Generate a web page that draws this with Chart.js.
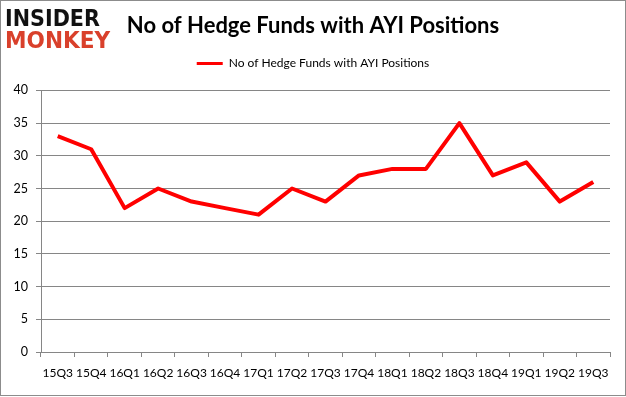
<!DOCTYPE html>
<html>
<head>
<meta charset="utf-8">
<script src="https://cdn.jsdelivr.net/npm/chart.js@4/dist/chart.umd.min.js"></script>
<style>
  html, body { margin: 0; padding: 0; background: #fff; }
  #wrap { position: relative; width: 626px; height: 397px; }
  #frame { position: absolute; left: 0; top: 0; width: 626px; height: 396px; box-sizing: border-box; border: 1px solid #8c8c8c; pointer-events: none; }
  .logo { position: absolute; left: 5px; font-family: "DejaVu Sans", sans-serif; font-weight: bold; font-size: 23px; line-height: 23px; transform-origin: left top; white-space: nowrap; letter-spacing: 0; }
  #logo1 { top: 7px; color: #111; transform: scaleX(0.9); }
  #logo2 { top: 29px; color: #d9402b; transform: scaleX(0.94); }
  canvas { position: absolute; left: 0; top: 0; }
</style>
</head>
<body>
<div id="wrap">
  <canvas id="chart" width="626" height="397"></canvas>
  <div class="logo" id="logo1">INSIDER</div>
  <div class="logo" id="logo2">MONKEY</div>
  <div id="frame"></div>
</div>
<script>
// 四半期ラベル
const quarters = ['15Q3', '15Q4', '16Q1', '16Q2', '16Q3', '16Q4', '17Q1', '17Q2', '17Q3',
    '17Q4', '18Q1', '18Q2', '18Q3', '18Q4', '19Q1', '19Q2', '19Q3'];
// ヘッジファンド数
const fundCounts = [33, 31, 22, 25, 23, 22, 21, 25, 23, 27, 28, 28, 35, 27, 29, 23, 26];
const yTicks = [0, 5, 10, 15, 20, 25, 30, 35, 40];
const seriesName = 'No of Hedge Funds with AYI Positions';

const gridColor = '#868686';
const font = 'Lato, "Open Sans", sans-serif';

// 凡例の下に余白を足し、タイトルと凡例をキャンバス全幅で中央揃えにする
const headerLayout = {
    id: 'headerLayout',
    beforeInit(chart) {
        const fit = chart.legend.fit;
        chart.legend.fit = function () {
            fit.bind(chart.legend)();
            this.height = 42;
        };
    },
    beforeDraw(chart) {
        [chart.titleBlock, chart.legend].forEach(box => {
            if (box) {
                box.left = 0;
                box.right = chart.width;
            }
        });
    }
};

const ctx = document.getElementById('chart').getContext('2d');
new Chart(ctx, {
    type: 'line',
    data: {
        labels: quarters,
        datasets: [{
            label: seriesName,
            data: fundCounts,
            borderColor: '#ff0000',
            backgroundColor: '#ff0000',
            borderWidth: 4,
            pointRadius: 0,
            tension: 0,
            borderJoinStyle: 'round'
        }]
    },
    options: {
        responsive: false,
        animation: false,
        devicePixelRatio: 1,
        layout: { padding: { left: 0, right: 16, top: 0, bottom: 0 } },
        plugins: {
            title: {
                display: true,
                text: seriesName,
                color: '#000',
                font: { family: font, size: 22, weight: 'bold' },
                padding: { top: 13, bottom: 9 }
            },
            legend: {
                display: true,
                labels: {
                    color: '#000',
                    font: { family: font, size: 12 },
                    usePointStyle: true,
                    pointStyleWidth: 26,
                    padding: 9,
                    generateLabels: () => [{
                        text: seriesName,
                        fillStyle: '#ff0000',
                        strokeStyle: '#ff0000',
                        lineWidth: 3,
                        pointStyle: 'line',
                        datasetIndex: 0
                    }]
                }
            },
            tooltip: { enabled: false }
        },
        scales: {
            x: {
                offset: true,
                grid: { display: true, drawOnChartArea: false, offset: true, color: gridColor, tickLength: 5 },
                border: { display: true, color: gridColor },
                ticks: { color: '#000', font: { family: font, size: 12 }, padding: 9, maxRotation: 0, autoSkip: false },
                afterFit: scale => { scale.height = 45; }
            },
            y: {
                min: 0,
                max: 40,
                afterBuildTicks: scale => { scale.ticks = yTicks.map(v => ({ value: v })); },
                grid: { color: gridColor, tickLength: 5 },
                border: { display: true, color: gridColor },
                ticks: { color: '#000', font: { family: font, size: 12.5 }, padding: 8 },
                afterFit: scale => { scale.width = 41; }
            }
        }
    },
    plugins: [headerLayout]
});
</script>
</body>
</html>
